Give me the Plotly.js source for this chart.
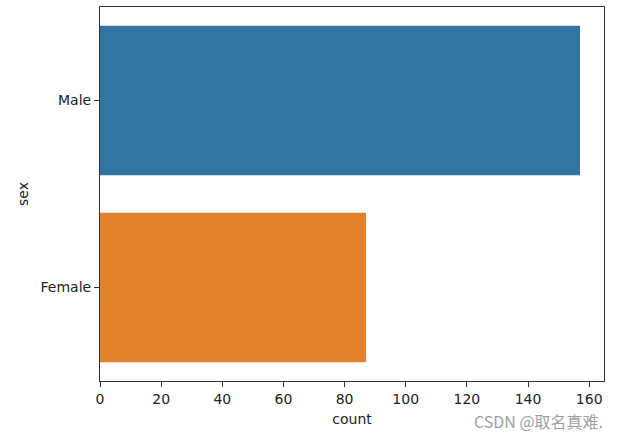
<!DOCTYPE html>
<html><head><meta charset="utf-8">
<script src="https://cdn.plot.ly/plotly-3.0.1.min.js"></script>
<style>body{margin:0;padding:0;background:#fff}#chart{width:618px;height:435px}</style>
</head><body><div id="chart"></div>
<script>
const categories = ["Male", "Female"];
const counts = [157, 87];
const colors = ["#3274a1", "#e1812c"];
const xTicks = [0, 20, 40, 60, 80, 100, 120, 140, 160];

const trace = {
  type: "bar", orientation: "h",
  y: categories, x: counts,
  marker: {color: colors, line: {width: 0}},
  width: 0.8, hoverinfo: "x+y"
};
const font = {family: "DejaVu Sans, sans-serif", size: 14, color: "#222"};
const layout = {
  width: 618, height: 435,
  margin: {l: 100, r: 14, t: 7, b: 54},
  paper_bgcolor: "#fff", plot_bgcolor: "#fff",
  font: font, showlegend: false,
  xaxis: {
    range: [0, 164.85], tickvals: xTicks, ticktext: xTicks.map(String),
    ticks: "outside", ticklen: 5, tickwidth: 1, tickcolor: "#333",
    showgrid: false, zeroline: false,
    showline: true, linecolor: "#333", linewidth: 1, mirror: true,
    title: {text: "count", font: font, standoff: 8}
  },
  yaxis: {
    range: [1.5, -0.5], type: "category", autorange: false,
    ticks: "outside", ticklen: 5, tickwidth: 1, tickcolor: "#333",
    showgrid: false, zeroline: false,
    showline: true, linecolor: "#333", linewidth: 1, mirror: true,
    title: {text: "sex", font: font, standoff: 8}
  },
  annotations: [{
    text: "CSDN @取名真难.", xref: "paper", yref: "paper",
    x: 1.0, y: -0.108, xanchor: "right", yanchor: "middle", showarrow: false,
    borderpad: 0,
    font: {family: "Noto Sans CJK SC, sans-serif", size: 16, color: "#a0a0a0"}
  }]
};
Plotly.newPlot("chart", [trace], layout, {displayModeBar: false, staticPlot: true});
</script></body></html>
